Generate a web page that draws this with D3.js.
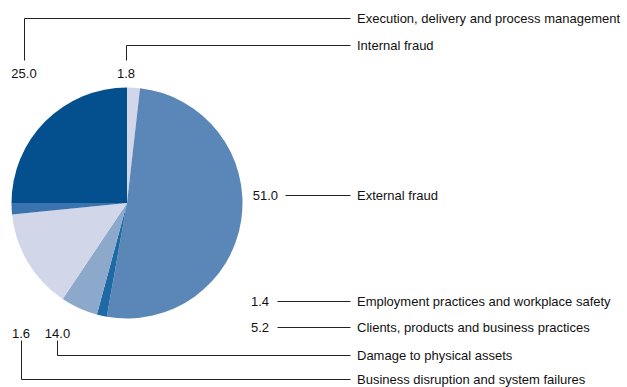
<!DOCTYPE html>
<html>
<head>
<meta charset="utf-8">
<script src="https://cdn.jsdelivr.net/npm/d3@7"></script>
<style>
  html, body { margin: 0; padding: 0; background: #fff; }
  svg { display: block; }
  text { font-family: "Liberation Sans", Arial, sans-serif; font-size: 13px; fill: #111; }
</style>
</head>
<body>
<svg id="chart" width="627" height="387"></svg>
<script>
// Operational loss event types (share of total, %), clockwise from 12 o'clock
const categories = [
  "Internal fraud",
  "External fraud",
  "Employment practices and workplace safety",
  "Clients, products and business practices",
  "Damage to physical assets",
  "Business disruption and system failures",
  "Execution, delivery and process management"
];
const values = [1.8, 51.0, 1.4, 5.2, 14.0, 1.6, 25.0];
const colors = ["#d1d6e8", "#5b87b8", "#1f6aa5", "#8ca9cc", "#d1d6e8", "#3a73ad", "#04508f"];

const svg = d3.select("#chart");
const cx = 127, cy = 203, r = 115.5;

const pie = d3.pie().sort(null).value(d => d.value);
const arc = d3.arc().innerRadius(0).outerRadius(r);
const data = categories.map((c, i) => ({ name: c, value: values[i], color: colors[i] }));

svg.append("g")
  .attr("transform", `translate(${cx},${cy})`)
  .selectAll("path")
  .data(pie(data))
  .join("path")
  .attr("d", arc)
  .attr("fill", d => d.data.color);

// Leader lines and labels: each entry routes a value label to its category name
const lineEnd = 350, nameX = 357;
const layout = {
  "Execution, delivery and process management": { nameY: 18.5, path: [[24, 60], [24, 18.5], [lineEnd, 18.5]], vx: 24, vy: 73, anchor: "middle" },
  "Internal fraud": { nameY: 45.5, path: [[126, 60], [126, 45.5], [lineEnd, 45.5]], vx: 126, vy: 73, anchor: "middle" },
  "External fraud": { nameY: 195, path: [[285, 195], [lineEnd, 195]], vx: 278, vy: 195, anchor: "end" },
  "Employment practices and workplace safety": { nameY: 301.5, path: [[277, 301.5], [lineEnd, 301.5]], vx: 269, vy: 301.5, anchor: "end" },
  "Clients, products and business practices": { nameY: 327, path: [[277, 327], [lineEnd, 327]], vx: 269, vy: 327, anchor: "end" },
  "Damage to physical assets": { nameY: 355, path: [[57, 340], [57, 355], [lineEnd, 355]], vx: 57.5, vy: 333, anchor: "middle" },
  "Business disruption and system failures": { nameY: 379.5, path: [[21, 340], [21, 379.5], [lineEnd, 379.5]], vx: 21, vy: 333, anchor: "middle" }
};

const ann = svg.append("g");
const line = d3.line();
data.forEach(d => {
  const L = layout[d.name];
  ann.append("path")
    .attr("d", line(L.path.map(p => [Math.round(p[0]) + 0.5, Math.floor(p[1]) + 0.5])))
    .attr("fill", "none")
    .attr("stroke", "#222")
    .attr("stroke-width", 1);
  ann.append("text")
    .attr("x", nameX)
    .attr("y", L.nameY)
    .attr("dy", "0.35em")
    .text(d.name);
  ann.append("text")
    .attr("x", L.vx)
    .attr("y", L.vy)
    .attr("dy", "0.35em")
    .attr("text-anchor", L.anchor)
    .text(d3.format(".1f")(d.value));
});
</script>
</body>
</html>
